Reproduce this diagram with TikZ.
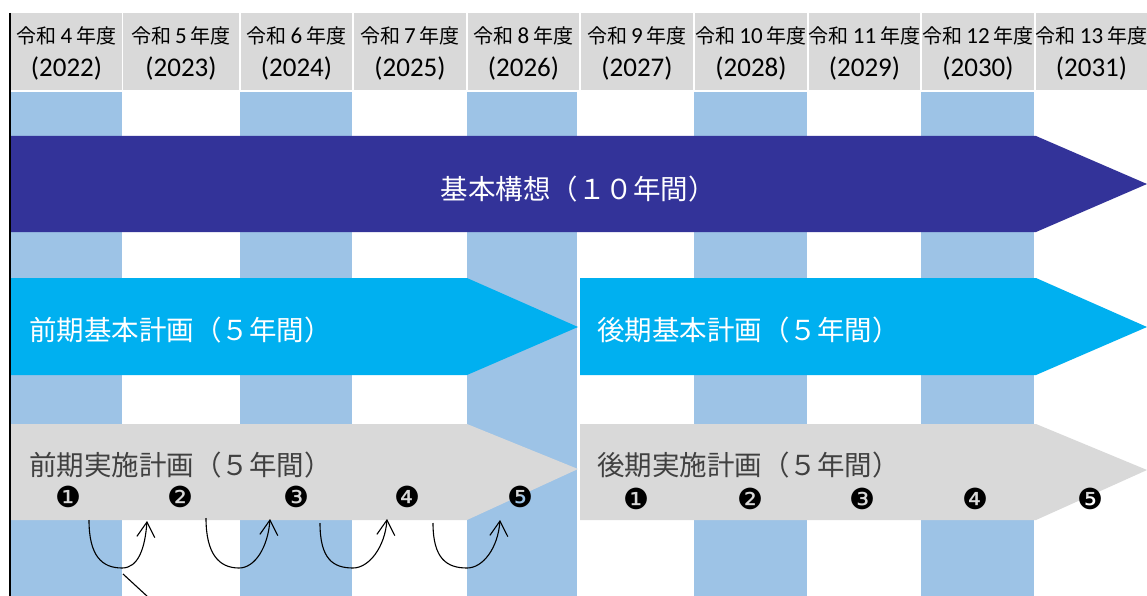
\documentclass[tikz,border=0pt]{standalone}
\usepackage{fontspec}
\setmainfont{Carlito}
\newfontfamily\jpfont{Noto Sans CJK JP}
\newfontfamily\dingfont{DejaVu Sans}
\usetikzlibrary{arrows.meta}
\definecolor{hdr}{HTML}{D9D9D9}
\definecolor{stripe}{HTML}{9DC3E6}
\definecolor{navy}{HTML}{333399}
\definecolor{cyanbar}{HTML}{00B0F0}
\definecolor{graybar}{HTML}{D9D9D9}
\definecolor{gtext}{HTML}{404040}
\begin{document}
\begin{tikzpicture}[x=1pt,y=-1pt,
  hcell/.style={fill=hdr,draw=none,inner sep=0pt,minimum height=77pt},
  htop/.style={font=\fontsize{23}{23}\selectfont,inner sep=0pt,text=black},
  hyear/.style={font=\fontsize{27}{27}\selectfont,inner sep=0pt,text=black},
  bartext/.style={font=\jpfont\fontsize{27.5}{27.5}\selectfont,inner sep=0pt},
  numlabel/.style={font=\dingfont\fontsize{29}{29}\selectfont,inner sep=0pt,text=black},
  curv/.style={line width=1.1pt,-{Straight Barb[length=15pt,width=18pt,line width=1.1pt]}}]
\useasboundingbox (0,0) rectangle (1147,596);
\fill[white] (0,0) rectangle (1147,596);

% header cells
\foreach \l/\r/\n/\yr [count=\i] in {11/122/4/2022,123/239/5/2023,241/352/6/2024,354/466/7/2025,468/579/8/2026,581/693/9/2027,695/807/10/2028,809/920/11/2029,922/1034/12/2030,1036/1147/13/2031}{
  \node[hcell,minimum width={(\r-\l)*1pt}] (h\i) at ({(\l+\r)/2},51.5) {};
  \node[htop] (ht\i) at ({(\l+\r)/2},36) {{\jpfont\fontsize{20}{20}\selectfont 令和}\hspace{4pt}\n\hspace{4pt}{\jpfont\fontsize{20}{20}\selectfont 年度}};
  \node[hyear] (hy\i) at ({(\l+\r)/2},68) {(\yr)};
}

% stripes
\foreach \l/\r in {11/122,240/352,467/577,694/807,921/1034}{
  \fill[stripe] (\l,92) rectangle (\r,596);
}

% left border
\draw[line width=1.8pt,black] (10,13) -- (10,596);

% 基本構想 bar
\fill[navy] (11,136) -- (1036,136) -- (1147,184) -- (1036,232) -- (11,232) -- cycle;
\node[bartext,text=white] (kihon) at (578,189) {基本構想（１０年間）};

% 基本計画 bars
\fill[cyanbar] (11,278) -- (467,278) -- (578,327) -- (467,375) -- (11,375) -- cycle;
\fill[cyanbar] (580,278) -- (1036,278) -- (1147,327) -- (1036,375) -- (580,375) -- cycle;
\node[bartext,text=white,anchor=west] (zenki) at (29,330) {前期基本計画（５年間）};
\node[bartext,text=white,anchor=west] (kouki) at (597,330) {後期基本計画（５年間）};

% 実施計画 bars
\fill[graybar] (11,424) -- (467,424) -- (578,469) -- (467,520) -- (11,520) -- cycle;
\fill[graybar] (580,424) -- (1036,424) -- (1147,470) -- (1036,520) -- (580,520) -- cycle;
\node[bartext,text=gtext,anchor=west] (zenjis) at (29,465) {前期実施計画（５年間）};
\node[bartext,text=gtext,anchor=west] (koujis) at (597,465) {後期実施計画（５年間）};

% numbers
\node[numlabel] (n1) at (68,497) {❶};
\node[numlabel] (n2) at (180,497) {❷};
\node[numlabel] (n3) at (296,497) {❸};
\node[numlabel] (n4) at (407,497) {❹};
\node[numlabel] (n5) at (520,497) {❺};
\node[numlabel] (m1) at (636,499) {❶};
\node[numlabel] (m2) at (750,499) {❷};
\node[numlabel] (m3) at (862,499) {❸};
\node[numlabel] (m4) at (975,499) {❹};
\node[numlabel] (m5) at (1090,499) {❺};

% curved arrows
\coordinate (a1s) at (89,520);  \coordinate (a1b) at (122,568); \coordinate (a1t) at (147,521);
\coordinate (a2s) at (206,518); \coordinate (a2b) at (239,568); \coordinate (a2t) at (270,519);
\coordinate (a3s) at (320,523); \coordinate (a3b) at (353,568); \coordinate (a3t) at (387,519);
\coordinate (a4s) at (433,523); \coordinate (a4b) at (467,568); \coordinate (a4t) at (500,520);
\foreach \k in {1,2,3,4}{
  \draw[curv] (a\k s) .. controls +(0,36) and +(-20,0) .. (a\k b) .. controls +(16,0) and +(-2,28) .. (a\k t);
}
\coordinate (d1) at (123,574);
\coordinate (d2) at (148,597);
\draw[line width=1.1pt] (d1) -- (d2);
\end{tikzpicture}
\end{document}
